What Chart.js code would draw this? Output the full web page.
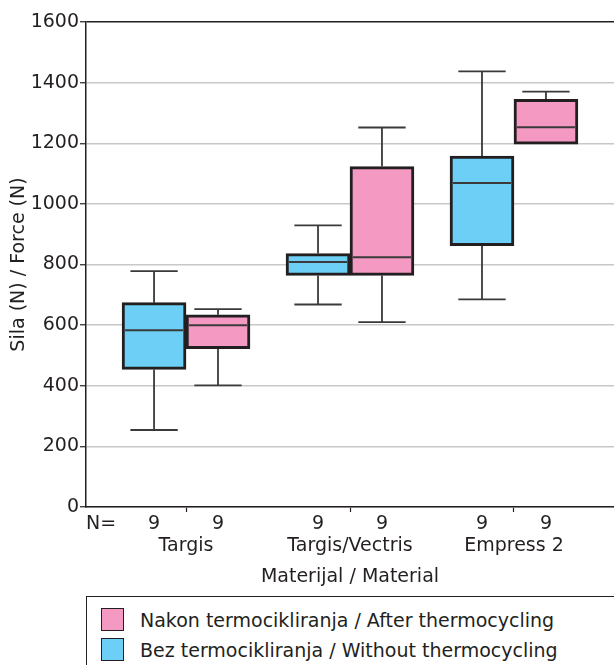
<!DOCTYPE html>
<html>
<head>
<meta charset="utf-8">
<script src="https://cdn.jsdelivr.net/npm/chart.js@4.4.1/dist/chart.umd.min.js"></script>
<style>
  body { margin: 0; background: #fff; overflow: hidden; font-family: "DejaVu Sans", sans-serif; }
  #wrap { position: relative; width: 614px; height: 665px; }
  #legend { position: absolute; left: 86px; top: 596px; width: 600px; height: 100px;
            border: 1.5px solid #231f20; box-sizing: border-box; color: #231f20; font-size: 19px; }
  .item { position: absolute; left: 14px; height: 24px; line-height: 24px; }
  .sw { position: absolute; left: 0; top: 0; width: 23px; height: 23px; border: 1.5px solid #231f20; box-sizing: border-box; }
  .lbl { position: absolute; left: 39px; top: 0; white-space: nowrap; }
</style>
</head>
<body>
<div id="wrap">
  <canvas id="chart" width="614" height="596"></canvas>
  <div id="legend">
    <div class="item" style="top:11px"><div class="sw" style="background:#f49ac2"></div><span class="lbl">Nakon termocikliranja / After thermocycling</span></div>
    <div class="item" style="top:41px"><div class="sw" style="background:#6dcff6"></div><span class="lbl">Bez termocikliranja / Without thermocycling</span></div>
  </div>
</div>
<script>
const categories = ['Targis', 'Targis/Vectris', 'Empress 2'];
const counts = [9, 9, 9];

// without thermocycling (blue)
const bezMin = [254, 668, 685];
const bezQ1 = [454, 764, 862];
const bezMedian = [583, 808, 1069];
const bezQ3 = [674, 836, 1158];
const bezMax = [778, 929, 1437];

// after thermocycling (pink)
const nakonMin = [401, 610, 1197];
const nakonQ1 = [522, 764, 1197];
const nakonMedian = [600, 824, 1253];
const nakonQ3 = [634, 1123, 1345];
const nakonMax = [653, 1252, 1370];

const yTicks = [0, 200, 400, 600, 800, 1000, 1200, 1400, 1600];

const dark = '#231f20';
const offset = 0.195;
const font = { family: '"DejaVu Sans", sans-serif', size: 19 };

const makeBoxes = (q1, q3, shift) => categories.map((c, i) => ({ x: i + 1 + shift, y: [q1[i], q3[i]] }));

const boxWidth = (ctx) => {
  const s = ctx.chart.scales && ctx.chart.scales.x;
  if (!s || !s.width) return 60;
  return s.getPixelForValue(2 * offset) - s.getPixelForValue(0);
};

const datasets = [
  {
    label: 'Bez termocikliranja / Without thermocycling',
    data: makeBoxes(bezQ1, bezQ3, -offset),
    backgroundColor: '#6dcff6',
    stats: { min: bezMin, median: bezMedian, max: bezMax }
  },
  {
    label: 'Nakon termocikliranja / After thermocycling',
    data: makeBoxes(nakonQ1, nakonQ3, offset),
    backgroundColor: '#f49ac2',
    stats: { min: nakonMin, median: nakonMedian, max: nakonMax }
  }
];

const boxPlot = {
  id: 'boxPlot',
  beforeDatasetsDraw(chart) {
    const { ctx } = chart;
    const y = chart.scales.y;
    ctx.save();
    ctx.strokeStyle = '#3a3a3a';
    ctx.lineWidth = 1.8;
    chart.data.datasets.forEach((ds, di) => {
      chart.getDatasetMeta(di).data.forEach((bar, i) => {
        const cap = bar.width * 0.37;
        const top = ds.data[i].y[1];
        const bottom = ds.data[i].y[0];
        ctx.beginPath();
        if (ds.stats.max[i] > top) {
          ctx.moveTo(bar.x, y.getPixelForValue(top));
          ctx.lineTo(bar.x, y.getPixelForValue(ds.stats.max[i]));
          ctx.moveTo(bar.x - cap, y.getPixelForValue(ds.stats.max[i]));
          ctx.lineTo(bar.x + cap, y.getPixelForValue(ds.stats.max[i]));
        }
        if (ds.stats.min[i] < bottom) {
          ctx.moveTo(bar.x, y.getPixelForValue(bottom));
          ctx.lineTo(bar.x, y.getPixelForValue(ds.stats.min[i]));
          ctx.moveTo(bar.x - cap, y.getPixelForValue(ds.stats.min[i]));
          ctx.lineTo(bar.x + cap, y.getPixelForValue(ds.stats.min[i]));
        }
        ctx.stroke();
      });
    });
    ctx.restore();
  },
  afterDatasetsDraw(chart) {
    const { ctx } = chart;
    const y = chart.scales.y;
    ctx.save();
    ctx.strokeStyle = '#3a3a3a';
    ctx.lineWidth = 2;
    chart.data.datasets.forEach((ds, di) => {
      chart.getDatasetMeta(di).data.forEach((bar, i) => {
        const py = y.getPixelForValue(ds.stats.median[i]);
        ctx.beginPath();
        ctx.moveTo(bar.x - bar.width / 2 + 3, py);
        ctx.lineTo(bar.x + bar.width / 2 - 3, py);
        ctx.stroke();
      });
    });
    // N= row
    const area = chart.chartArea;
    ctx.fillStyle = dark;
    ctx.font = font.size + 'px ' + font.family;
    ctx.textBaseline = 'middle';
    ctx.textAlign = 'left';
    const rowY = area.bottom + 17;
    ctx.fillText('N=', area.left, rowY);
    ctx.textAlign = 'center';
    chart.data.datasets.forEach((ds, di) => {
      chart.getDatasetMeta(di).data.forEach((bar, i) => {
        ctx.fillText(String(counts[i]), bar.x, rowY);
      });
    });
    ctx.restore();
  }
};

new Chart(document.getElementById('chart'), {
  type: 'bar',
  data: { datasets },
  plugins: [boxPlot],
  options: {
    responsive: false,
    animation: false,
    layout: { padding: { top: 22, right: 0, bottom: 0, left: 0 } },
    datasets: {
      bar: {
        grouped: false,
        barThickness: boxWidth,
        borderWidth: 3,
        borderColor: dark,
        borderSkipped: false
      }
    },
    plugins: {
      legend: { display: false },
      tooltip: { enabled: false }
    },
    scales: {
      x: {
        type: 'linear',
        offset: false,
        min: 0.39,
        max: 3.61,
        afterBuildTicks: (scale) => { scale.ticks = categories.map((c, i) => ({ value: i + 1 })); },
        afterFit: (scale) => { scale.height = 89; },
        grid: { offset: false, drawOnChartArea: false, drawTicks: true, tickLength: 5, tickColor: dark, tickWidth: 1.2 },
        border: { color: dark, width: 1.5 },
        ticks: {
          color: dark,
          font: font,
          padding: 23,
          autoSkip: false,
          maxRotation: 0,
          callback: (v) => categories[Math.round(v) - 1]
        },
        title: { display: true, text: 'Materijal / Material', color: dark, font: font, padding: { top: 0, bottom: 8 } }
      },
      y: {
        min: 0,
        max: 1600,
        afterBuildTicks: (scale) => { scale.ticks = yTicks.map(v => ({ value: v })); },
        afterFit: (scale) => { scale.width = 86; },
        grid: {
          color: (c) => (c.tick && c.tick.value === 1600 ? dark : '#c8c8c8'),
          lineWidth: 1.5,
          tickLength: 6,
          tickColor: dark,
          tickWidth: 1.2
        },
        border: { color: dark, width: 1.5 },
        ticks: { color: dark, font: font, padding: 1, callback: (v) => String(v) },
        title: { display: true, text: 'Sila (N) / Force (N)', color: dark, font: font, padding: { top: 8, bottom: 0 } }
      }
    }
  }
});
</script>
</body>
</html>
